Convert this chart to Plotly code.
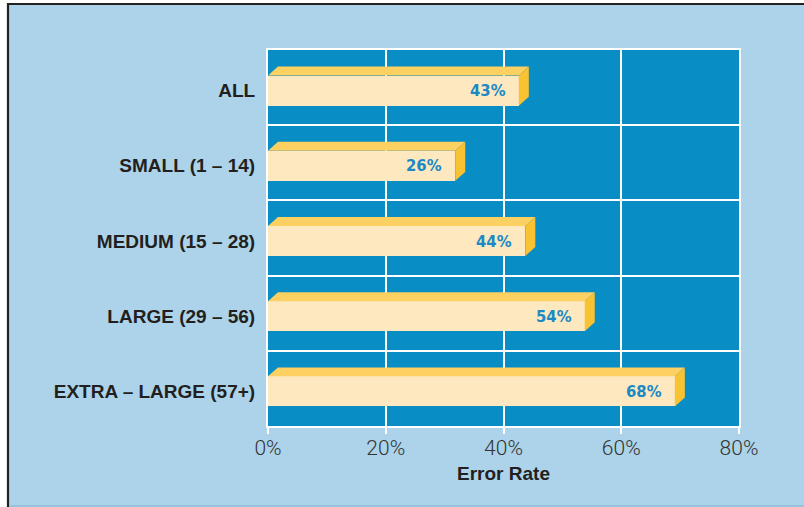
import plotly.graph_objects as go

# ---- data ----
categories = ["ALL", "SMALL (1 – 14)", "MEDIUM (15 – 28)", "LARGE (29 – 56)", "EXTRA – LARGE (57+)"]
bar_lengths = [42.6, 31.8, 43.7, 53.8, 69.1]        # drawn bar length (% error rate)
value_labels = ["43%", "26%", "44%", "54%", "68%"]   # printed labels
x_tickvals = [0, 20, 40, 60, 80]
x_ticktext = ["0%", "20%", "40%", "60%", "80%"]

# ---- style ----
BG = "#acd3e9"
PLOT_BG = "#088dc5"
FRONT = "#fde8bf"
TOP = "#fdd062"
SIDE = "#f8c233"
LABEL_BLUE = "#1a89c6"
DARK = "#231f20"

n = len(categories)
centers = [n - 0.5 - i - 0.04 for i in range(n)]
half_h = 0.2
dx, dy = 1.7, 0.119

fig = go.Figure()
fig.add_trace(go.Bar(
    x=bar_lengths, y=centers, orientation="h", width=2 * half_h,
    marker=dict(color=FRONT, line=dict(width=0)), hoverinfo="skip", showlegend=False,
))

shapes = []
for v, yc in zip(bar_lengths, centers):
    top = f"M 0,{yc+half_h} L {v},{yc+half_h} L {v+dx},{yc+half_h+dy} L {dx},{yc+half_h+dy} Z"
    side = f"M {v},{yc-half_h} L {v},{yc+half_h} L {v+dx},{yc+half_h+dy} L {v+dx},{yc-half_h+dy} Z"
    shapes.append(dict(type="path", path=top, xref="x", yref="y", fillcolor=TOP, line=dict(width=0)))
    shapes.append(dict(type="path", path=side, xref="x", yref="y", fillcolor=SIDE, line=dict(width=0)))

# outer frame (pixel -> paper)
L, R, T, B, W, H = 268, 65, 50, 81, 804, 507
pw, ph = W - L - R, H - T - B
def px(x): return (x - L) / pw
def py(y): return (H - B - y) / ph
shapes.append(dict(type="rect", xref="paper", yref="paper", x0=px(-5), x1=px(7), y0=py(-5), y1=py(H + 5),
                   fillcolor="white", line=dict(width=0)))
shapes.append(dict(type="rect", xref="paper", yref="paper", x0=px(-5), x1=px(W + 5), y0=py(-5), y1=py(3),
                   fillcolor="white", line=dict(width=0)))
shapes.append(dict(type="path", xref="paper", yref="paper",
                   path=f"M {px(8)},{py(H+2)} L {px(8)},{py(4)} L {px(W+2)},{py(4)}",
                   line=dict(color="#222222", width=2.2)))
shapes.append(dict(type="line", xref="paper", yref="paper", x0=px(9), x1=px(W + 2), y0=py(506), y1=py(506),
                   line=dict(color="#93bdd6", width=1.5)))

annotations = []
for v, yc, t in zip(bar_lengths, centers, value_labels):
    annotations.append(dict(x=v, y=yc, xref="x", yref="y", text=t, showarrow=False,
                            xanchor="right", yanchor="middle", xshift=-11,
                            font=dict(family="DejaVu Sans Condensed, Liberation Sans Narrow, Liberation Sans",
                                      size=16.5, color=LABEL_BLUE, weight="bold")))

fig.update_layout(
    width=W, height=H,
    margin=dict(l=L, r=R, t=T, b=B, pad=0),
    paper_bgcolor=BG, plot_bgcolor=PLOT_BG,
    bargap=0, showlegend=False,
    shapes=shapes, annotations=annotations,
    xaxis=dict(range=[0, 80], tickvals=x_tickvals, ticktext=x_ticktext,
               showgrid=True, gridcolor="white", gridwidth=2,
               zeroline=False, showline=True, linecolor="white", linewidth=2, mirror=True,
               ticks="outside", ticklen=6, tickwidth=2, tickcolor="white",
               ticklabelstandoff=-4,
               tickfont=dict(family="Roboto, Liberation Sans", size=21, color="#333333", weight=300),
               title=dict(text="Error Rate", standoff=7,
                          font=dict(family="Liberation Sans", size=19, color=DARK, weight="bold"))),
    yaxis=dict(range=[0, n], tickvals=centers, ticktext=categories,
               showgrid=False, zeroline=False,
               showline=True, linecolor="white", linewidth=2, mirror=True,
               ticks="outside", ticklen=7, tickcolor="rgba(0,0,0,0)",
               tickfont=dict(family="Liberation Sans", size=19, color=DARK, weight="bold"),
               minor=dict(tickvals=[1, 2, 3, 4], showgrid=True, gridcolor="white", gridwidth=2, ticks="")),
)

fig.write_html("out.html", config={"displayModeBar": False},
               post_script="document.body.style.margin='0';")
